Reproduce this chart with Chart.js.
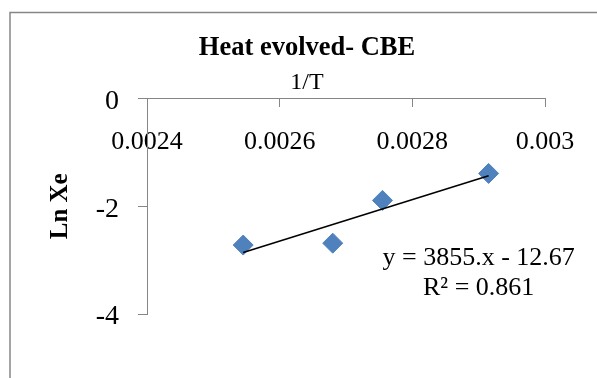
<!DOCTYPE html>
<html>
<head>
<meta charset="utf-8">
<script src="https://cdn.jsdelivr.net/npm/chart.js@4/dist/chart.umd.min.js"></script>
<style>
  html, body { margin: 0; padding: 0; background: #ffffff; }
  canvas { display: block; }
</style>
</head>
<body>
<canvas id="c" width="597" height="378"></canvas>
<script>
// ---- data ----
const chartTitle = "Heat evolved- CBE";
const xAxisTitle = "1/T";
const yAxisTitle = "Ln Xe";
const invT = [0.002545, 0.00268, 0.002755, 0.002915];
const lnXe = [-2.72, -2.685, -1.89, -1.39];
const xTickValues = [0.0024, 0.0026, 0.0028, 0.003];
const xTickLabels = ["0.0024", "0.0026", "0.0028", "0.003"];
const yTickValues = [-4, -2, 0];
const yTickLabels = ["-4", "-2", "0"];
const trendSlope = 3855;
const trendIntercept = -12.67;
const equationText = "y = 3855.x - 12.67";
const r2Text = "R² = 0.861";

// ---- styling ----
const SERIF = '"Liberation Serif", "Times New Roman", serif';
const AXIS_GREY = '#868686';
const MARKER_BLUE = '#4F81BD';

const points = invT.map((x, i) => ({ x: x, y: lnXe[i] }));
const xMin = Math.min(...invT), xMax = Math.max(...invT);
const trendPoints = [xMin, xMax].map(x => ({ x: x, y: trendSlope * x + trendIntercept }));

const eqAnchor = { x: 0.0029, y: -2.96 };
const r2Anchor = { x: 0.0029, y: -3.52 };

const framePlugin = {
  id: 'frame',
  beforeDraw(chart) {
    const ctx = chart.ctx;
    ctx.save();
    ctx.strokeStyle = AXIS_GREY;
    ctx.lineWidth = 1.5;
    ctx.strokeRect(10, 12.5, 1000, 1000);
    ctx.restore();
  }
};

const equationPlugin = {
  id: 'equation',
  afterDatasetsDraw(chart) {
    const ctx = chart.ctx;
    const xs = chart.scales.x, ys = chart.scales.y;
    ctx.save();
    ctx.fillStyle = '#000';
    ctx.font = '26px ' + SERIF;
    ctx.textAlign = 'center';
    ctx.textBaseline = 'middle';
    ctx.fillText(equationText, xs.getPixelForValue(eqAnchor.x), ys.getPixelForValue(eqAnchor.y));
    ctx.fillText(r2Text, xs.getPixelForValue(r2Anchor.x), ys.getPixelForValue(r2Anchor.y));
    ctx.restore();
  }
};

new Chart(document.getElementById('c'), {
  type: 'scatter',
  data: {
    datasets: [
      {
        label: 'trend',
        type: 'line',
        data: trendPoints,
        borderColor: '#000000',
        borderWidth: 1.6,
        pointRadius: 0,
        fill: false,
        order: 0
      },
      {
        label: yAxisTitle,
        data: points,
        pointStyle: 'rectRot',
        pointRadius: 10,
        backgroundColor: MARKER_BLUE,
        borderColor: MARKER_BLUE,
        borderWidth: 1,
        order: 1
      }
    ]
  },
  options: {
    responsive: false,
    animation: false,
    devicePixelRatio: 1,
    layout: { padding: { top: 0, left: 17, right: 0, bottom: 64 } },
    plugins: {
      legend: { display: false },
      tooltip: { enabled: false },
      title: {
        display: true,
        text: chartTitle,
        color: '#000',
        font: { family: SERIF, size: 26.5, weight: 'bold', lineHeight: 1.2 },
        padding: { top: 32, bottom: 0 }
      },
      subtitle: {
        display: true,
        text: xAxisTitle,
        color: '#000',
        font: { family: SERIF, size: 24, weight: 'normal', lineHeight: 1.2 },
        padding: { top: 5, bottom: 1 }
      }
    },
    scales: {
      x: {
        type: 'linear',
        position: { y: 0 },
        min: xTickValues[0],
        max: xTickValues[xTickValues.length - 1],
        afterBuildTicks(scale) { scale.ticks = xTickValues.map(v => ({ value: v })); },
        ticks: {
          color: '#000',
          font: { family: SERIF, size: 26 },
          padding: 20,
          maxRotation: 0,
          autoSkip: false,
          callback: (v, i) => xTickLabels[i]
        },
        grid: { drawOnChartArea: false, drawTicks: true, tickLength: 8, color: AXIS_GREY, lineWidth: 1 },
        border: { display: true, color: AXIS_GREY, width: 1 }
      },
      y: {
        type: 'linear',
        position: 'left',
        min: yTickValues[0],
        max: yTickValues[yTickValues.length - 1],
        afterBuildTicks(scale) { scale.ticks = yTickValues.map(v => ({ value: v })); },
        afterFit(scale) { scale.width = 130; },
        ticks: {
          color: '#000',
          font: { family: SERIF, size: 28 },
          padding: 19,
          labelOffset: 3,
          autoSkip: false,
          callback: (v, i) => yTickLabels[i]
        },
        title: {
          display: true,
          text: yAxisTitle,
          color: '#000',
          font: { family: SERIF, size: 25, weight: 'bold', lineHeight: 1.2 },
          padding: { top: 29, bottom: 0 }
        },
        grid: { drawOnChartArea: false, drawTicks: true, tickLength: 9, color: AXIS_GREY, lineWidth: 1 },
        border: { display: true, color: AXIS_GREY, width: 1 }
      },
      spacer: {
        type: 'linear',
        position: 'right',
        display: true,
        afterFit(scale) { scale.width = 52; },
        ticks: { display: false },
        grid: { display: false, drawTicks: false },
        border: { display: false }
      }
    }
  },
  plugins: [framePlugin, equationPlugin]
});
</script>
</body>
</html>
